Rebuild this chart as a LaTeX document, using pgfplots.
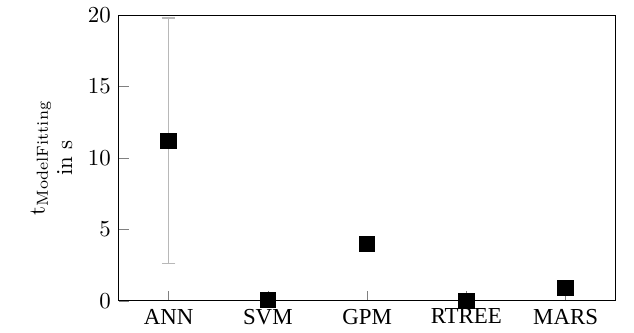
\documentclass[border=0pt]{standalone}
\usepackage{fontspec}
\usepackage{pgfplots}
\pgfplotsset{compat=1.18}
\newfontfamily\timesfont{Liberation Serif}
\begin{document}
\begin{tikzpicture}
\begin{axis}[
  scale only axis,
  width=217pt, height=125pt,
  xmin=-0.5, xmax=4.5,
  ymin=0, ymax=20,
  ytick={0,5,10,15,20},
  xtick={0,1,2,3,4},
  xticklabels={ANN,SVM,GPM,RTREE,MARS},
  xticklabel style={font=\timesfont},
  tick pos=left,
  major tick style={gray},
  ylabel={$\mathrm{t}_{\mathrm{ModelFitting}}$\\in s},
  ylabel style={align=center},
]
\addplot[only marks, mark=square*, mark size=3.4pt, black,
  error bars/.cd, y dir=both, y explicit,
  error bar style={black!28, line width=0.6pt},
  error mark options={black!28, mark size=3pt, line width=0.6pt, rotate=90}]
  coordinates {
    (0,11.2) +- (0,8.6)
    (1,0.07) +- (0,0)
    (2,3.97) +- (0,0)
    (3,0.0) +- (0,0)
    (4,0.92) +- (0,0)
  };
\end{axis}
\path ([xshift=-10pt]current bounding box.west);
\path ([xshift=8pt]current bounding box.east);
\end{tikzpicture}
\end{document}
